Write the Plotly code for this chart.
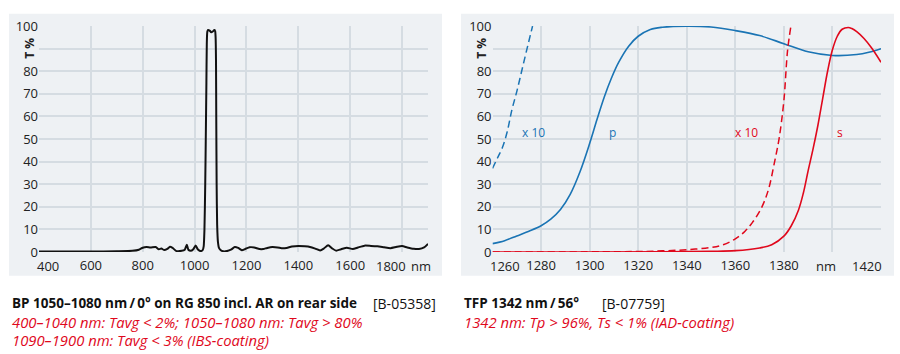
import plotly.graph_objects as go

# ---------------- data: left chart (BP 1050-1080 nm) ----------------
bp_wl = [400, 500, 600, 700, 760, 785, 800, 815, 830, 850, 862, 872, 882, 895, 905, 915,
         930, 950, 962, 970, 976, 985, 995, 1004, 1012, 1022, 1031, 1035, 1038, 1041, 1043,
         1045.5, 1047, 1049, 1052, 1058, 1064, 1070, 1076, 1079, 1081, 1082.5, 1083.5, 1085,
         1087, 1090, 1094, 1100, 1110, 1125, 1140, 1155, 1168, 1182, 1195, 1212, 1230, 1250,
         1265, 1280, 1300, 1320, 1340, 1355, 1375, 1400, 1425, 1445, 1465, 1484, 1498, 1515,
         1530, 1545, 1565, 1587, 1610, 1630, 1655, 1680, 1705, 1730, 1755, 1780, 1800, 1820,
         1845, 1865, 1885, 1900]
bp_t = [0.2, 0.2, 0.2, 0.3, 0.5, 1.0, 1.9, 2.2, 2.0, 2.2, 1.2, 1.5, 0.9, 1.4, 2.3, 1.8,
        0.4, 0.5, 1.0, 3.2, 1.0, 0.5, 1.2, 2.9, 1.2, 0.4, 0.8, 2.5, 10, 30, 49,
        75, 92, 97.5, 98.3, 98.0, 97.3, 97.6, 98.3, 98.0, 95, 85, 60, 30,
        12, 4.5, 1.8, 0.9, 0.3, 0.4, 1.0, 2.2, 1.8, 0.8, 1.3, 2.1, 2.0, 1.3,
        1.3, 1.8, 2.2, 2.0, 1.6, 1.8, 2.4, 2.7, 2.5, 2.2, 1.5, 0.7, 1.5, 3.0,
        1.6, 0.6, 1.2, 1.9, 1.3, 2.0, 2.8, 2.7, 2.5, 2.1, 1.7, 2.3, 2.6, 2.0,
        1.4, 1.3, 2.0, 3.6]

# ---------------- data: right chart (TFP 1342 nm / 56°) ----------------
p_wl = [1260, 1265, 1270, 1275, 1280, 1284, 1288, 1292, 1296, 1300, 1303, 1306, 1309, 1312,
        1316, 1320, 1325, 1330, 1340, 1350, 1360, 1370, 1380, 1390, 1400, 1410, 1415, 1420]
p_t = [3.7, 5.0, 7.1, 9.2, 11.6, 14.5, 18.8, 25.5, 35.4, 48, 58.5, 68.5, 77, 84,
       91, 95.5, 98.5, 99.5, 100, 99.6, 98, 95.8, 92.2, 88.6, 87, 87.4, 88.4, 90]

p10_wl = [1260, 1262, 1264, 1266, 1268, 1270, 1272, 1274, 1276.5]
p10_t = [37, 41.5, 46, 53, 63, 71, 80, 89, 100]

s_wl = [1260, 1300, 1330, 1350, 1360, 1370, 1375, 1380, 1383, 1386, 1388, 1390, 1392, 1394,
        1396, 1398, 1400, 1402, 1404, 1406.5, 1408, 1410, 1413, 1416, 1420]
s_t = [0, 0, 0.1, 0.3, 0.6, 1.8, 3.2, 7, 11.5, 18.5, 26, 36, 45.5, 56,
       68, 80, 89.5, 95.5, 98.6, 99.4, 98.9, 97.5, 94.5, 90.5, 84]

s10_wl = [1260, 1320, 1330, 1340, 1350, 1355, 1360, 1364, 1367, 1370, 1372, 1374, 1376,
          1378, 1380, 1381.5, 1382.9]
s10_t = [0, 0.2, 0.5, 1.0, 2.0, 3.2, 5.8, 9.2, 13, 18, 22.5, 29, 39, 50, 67, 89, 100]

y_ticks = [0, 10, 20, 30, 40, 50, 60, 70, 80, 100]
left_ticks = [600, 800, 1000, 1200, 1400, 1600]
right_ticks = [1280, 1300, 1320, 1340, 1360, 1380]

# ---------------- styling ----------------
W, H = 900, 354
BG = "#eef1f4"
GRID = "#d5dce2"
TXT = "#222222"
BLUE = "#1a74b4"
RED = "#e0081c"
FONT = "Open Sans"

def px_x(p):
    return p / W

def px_y(p):
    return 1 - p / H

fig = go.Figure()
fig.add_trace(go.Scatter(x=bp_wl, y=bp_t, mode="lines", line=dict(color="#111111", width=2, shape="spline", smoothing=0.6),
                         xaxis="x", yaxis="y", showlegend=False, hoverinfo="skip"))
fig.add_trace(go.Scatter(x=p10_wl, y=p10_t, mode="lines", line=dict(color=BLUE, width=1.5, dash="7px,4px", shape="spline"),
                         xaxis="x2", yaxis="y2", showlegend=False, hoverinfo="skip"))
fig.add_trace(go.Scatter(x=p_wl, y=p_t, mode="lines", line=dict(color=BLUE, width=1.6, shape="spline"),
                         xaxis="x2", yaxis="y2", showlegend=False, hoverinfo="skip"))
fig.add_trace(go.Scatter(x=s10_wl, y=s10_t, mode="lines", line=dict(color=RED, width=1.5, dash="7px,4px", shape="spline"),
                         xaxis="x2", yaxis="y2", showlegend=False, hoverinfo="skip"))
fig.add_trace(go.Scatter(x=s_wl, y=s_t, mode="lines", line=dict(color=RED, width=1.6, shape="spline"),
                         xaxis="x2", yaxis="y2", showlegend=False, hoverinfo="skip"))

ydom = [px_y(256), px_y(18)]
axis_font = dict(family=FONT, size=13, color=TXT)

def xax(dom, rng, ticks, extra, anchor):
    return dict(domain=dom, range=rng, tickvals=ticks + extra,
                ticktext=[str(t) for t in ticks] + [""] * len(extra), showgrid=True, gridcolor=GRID, gridwidth=1.5,
                zeroline=False, showline=False, ticks="", tickfont=axis_font, anchor=anchor, fixedrange=True,
                ticklabelstandoff=4)

def yax(anchor):
    return dict(domain=ydom, range=[0, 100], tickvals=y_ticks + [90],
                ticktext=[str(t) for t in y_ticks] + [""], showgrid=True, gridcolor=GRID, gridwidth=1.5,
                zeroline=False, showline=False, ticks="", tickfont=axis_font, anchor=anchor, fixedrange=True)

fig.update_layout(
    width=W, height=H, margin=dict(l=0, r=0, t=0, b=0),
    paper_bgcolor="white", plot_bgcolor="rgba(0,0,0,0)",
    xaxis=xax([px_x(39), px_x(428)], [400, 1900], left_ticks, [1800, 1900], "y"),
    yaxis=yax("x"),
    xaxis2=xax([px_x(492.5), px_x(881)], [1260, 1420], right_ticks, [1400, 1420], "y2"),
    yaxis2=yax("x2"),
    font=dict(family=FONT, color=TXT),
)

shapes = []
for x0, x1 in [(9, 442), (461, 894)]:
    shapes.append(dict(type="rect", xref="paper", yref="paper", x0=px_x(x0), x1=px_x(x1),
                       y0=px_y(281), y1=px_y(5), fillcolor=BG, line=dict(width=0), layer="below"))
fig.update_layout(shapes=shapes)

ann = []
tick_y = px_y(271)
# edge tick labels (shifted inward as in the original)
for xr, xv, txt, sh in [("x", 400, "400", 9), ("x", 1800, "1800", -11), ("x", 1900, "nm", -7),
                        ("x2", 1260, "1260", 12), ("x2", 1400, "nm", -6), ("x2", 1420, "1420", -14)]:
    ann.append(dict(xref=xr, yref="paper", x=xv, y=tick_y, text=txt, showarrow=False, xshift=sh,
                    xanchor="center", yanchor="middle", font=axis_font))
# T % labels
for xp in [30, 482]:
    ann.append(dict(xref="paper", yref="paper", x=px_x(xp), y=px_y(42), text="<b>T %</b>", textangle=-90,
                    showarrow=False, xanchor="center", yanchor="middle", font=dict(family=FONT, size=12, color=TXT)))
# curve labels
for xv, txt, col in [(1276.7, "x 10", BLUE), (1309.4, "p", BLUE), (1364.8, "x 10", RED), (1403, "s", RED)]:
    ann.append(dict(xref="x2", yref="y2", x=xv, y=53, text=txt, showarrow=False,
                    xanchor="center", yanchor="middle", font=dict(family=FONT, size=12, color=col)))

cap_font_b = dict(family=FONT, size=13.5, color="#111111")
cap_font_bb = dict(family=FONT, size=14, color="#111111")
cap_font_r = dict(family=FONT, size=14.8, color=RED)
captions = [
    (10, 310, "<b>BP 1050–1080 nm\u2009/\u20090° on RG 850 incl. AR on rear side</b>", cap_font_b),
    (371, 310, "[B-05358]", cap_font_bb),
    (10, 330, "<i>400–1040 nm: Tavg < 2%; 1050–1080 nm: Tavg > 80%</i>", cap_font_r),
    (10, 349, "<i>1090–1900 nm: Tavg < 3% (IBS-coating)</i>", cap_font_r),
    (462, 310, "<b>TFP 1342 nm\u2009/\u200956°</b>", cap_font_b),
    (600, 310, "[B-07759]", cap_font_bb),
    (462, 330, "<i>1342 nm: Tp > 96%, Ts < 1% (IAD-coating)</i>", cap_font_r),
]
for xp, yp, txt, f in captions:
    ann.append(dict(xref="paper", yref="paper", x=px_x(xp), y=px_y(yp), text=txt, showarrow=False,
                    xanchor="left", yanchor="middle", font=f))
fig.update_layout(annotations=ann)

fig.write_html("out.html")
